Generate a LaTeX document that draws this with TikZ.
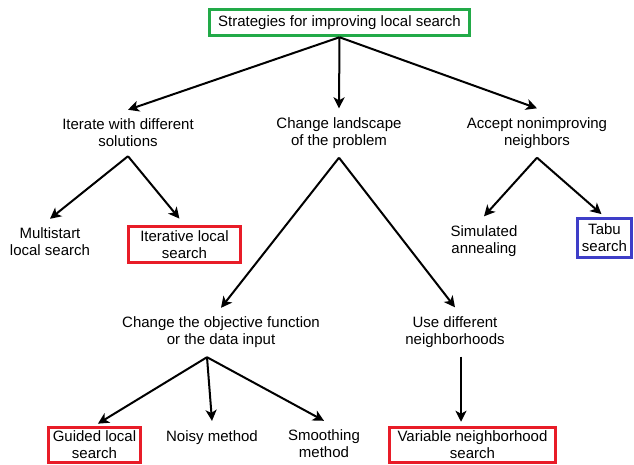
\documentclass[tikz,border=0pt]{standalone}
\usepackage{fontspec}
\setmainfont{Liberation Sans}
\usepackage{xcolor}
\usetikzlibrary{arrows.meta,positioning,calc}
\definecolor{boxgreen}{RGB}{34,170,72}
\definecolor{boxred}{RGB}{232,28,40}
\definecolor{boxblue}{RGB}{62,62,200}
\tikzset{
  txt/.style={align=center,font=\fontsize{15}{17}\selectfont,inner xsep=2pt,inner ysep=9pt},
  hlbox/.style={txt,draw,line width=3.5pt,inner ysep=2pt},
  gbox/.style={hlbox,draw=boxgreen},
  rbox/.style={hlbox,draw=boxred},
  bbox/.style={hlbox,draw=boxblue},
  link/.style={line width=2pt,black,-{Stealth[length=11pt,width=11pt,inset=3pt]}},
}
\begin{document}
\begin{tikzpicture}[x=1pt,y=-1pt]
  \useasboundingbox (0,0) rectangle (634,464);

  % root
  \node[gbox,minimum width=260pt,minimum height=26pt] (root) at (339.5,22.5) {Strategies for improving local search};

  % first level
  \node[txt] (iter) at (128,133) {Iterate with different\\solutions};
  \node[txt] (change) at (339,133) {Change landscape\\of the problem};
  \node[txt] (accept) at (537,133) {Accept nonimproving\\neighbors};

  % second level
  \node[txt] (multi) at (50,242) {Multistart\\local search};
  \node[rbox,minimum width=112pt,minimum height=36pt] (itls) at (184.5,244.5) {Iterative local\\search};
  \node[txt] (simann) at (484,241) {Simulated\\annealing};
  \node[bbox,minimum width=54pt,minimum height=39pt] (tabu) at (604.5,238) {Tabu\\search};

  % third level
  \node[txt] (objfn) at (221,332.5) {Change the objective function\\or the data input};
  \node[txt] (usenb) at (455,332) {Use different\\neighborhoods};
  \coordinate (objfork) at ([xshift=-14pt]objfn.south);

  % leaves
  \node[rbox,minimum width=92pt,minimum height=35pt] (gls) at (94.5,445) {Guided local\\search};
  \node[txt,anchor=base] (noisy) at (212,441) {Noisy method};
  \node[txt] (smooth) at (324,444) {Smoothing\\method};
  \node[rbox,minimum width=166pt,minimum height=35pt] (vns) at (472.5,445) {Variable neighborhood\\search};

  % arrows
  \draw[link] (root.south) -- (iter.north);
  \draw[link] (root.south) -- (change.north);
  \draw[link] (root.south) -- (accept.north);
  \draw[link] (iter.south) -- (multi.north);
  \draw[link,shorten >=8pt] (iter.south) -- (itls.north);
  \draw[link] (accept.south) -- (simann.north);
  \draw[link,shorten >=4pt] (accept.south) -- (tabu.north);
  \draw[link] (change.south) -- (objfn.north);
  \draw[link] (change.south) -- (usenb.north);
  \draw[link,shorten >=4pt] (objfork) -- (gls.north);
  \draw[link] (objfork) -- (noisy.north);
  \draw[link] (objfork) -- (smooth.north);
  \draw[link,shorten >=4pt] ([xshift=6pt]usenb.south) -- ([xshift=6pt]usenb.south |- vns.north);
\end{tikzpicture}
\end{document}
